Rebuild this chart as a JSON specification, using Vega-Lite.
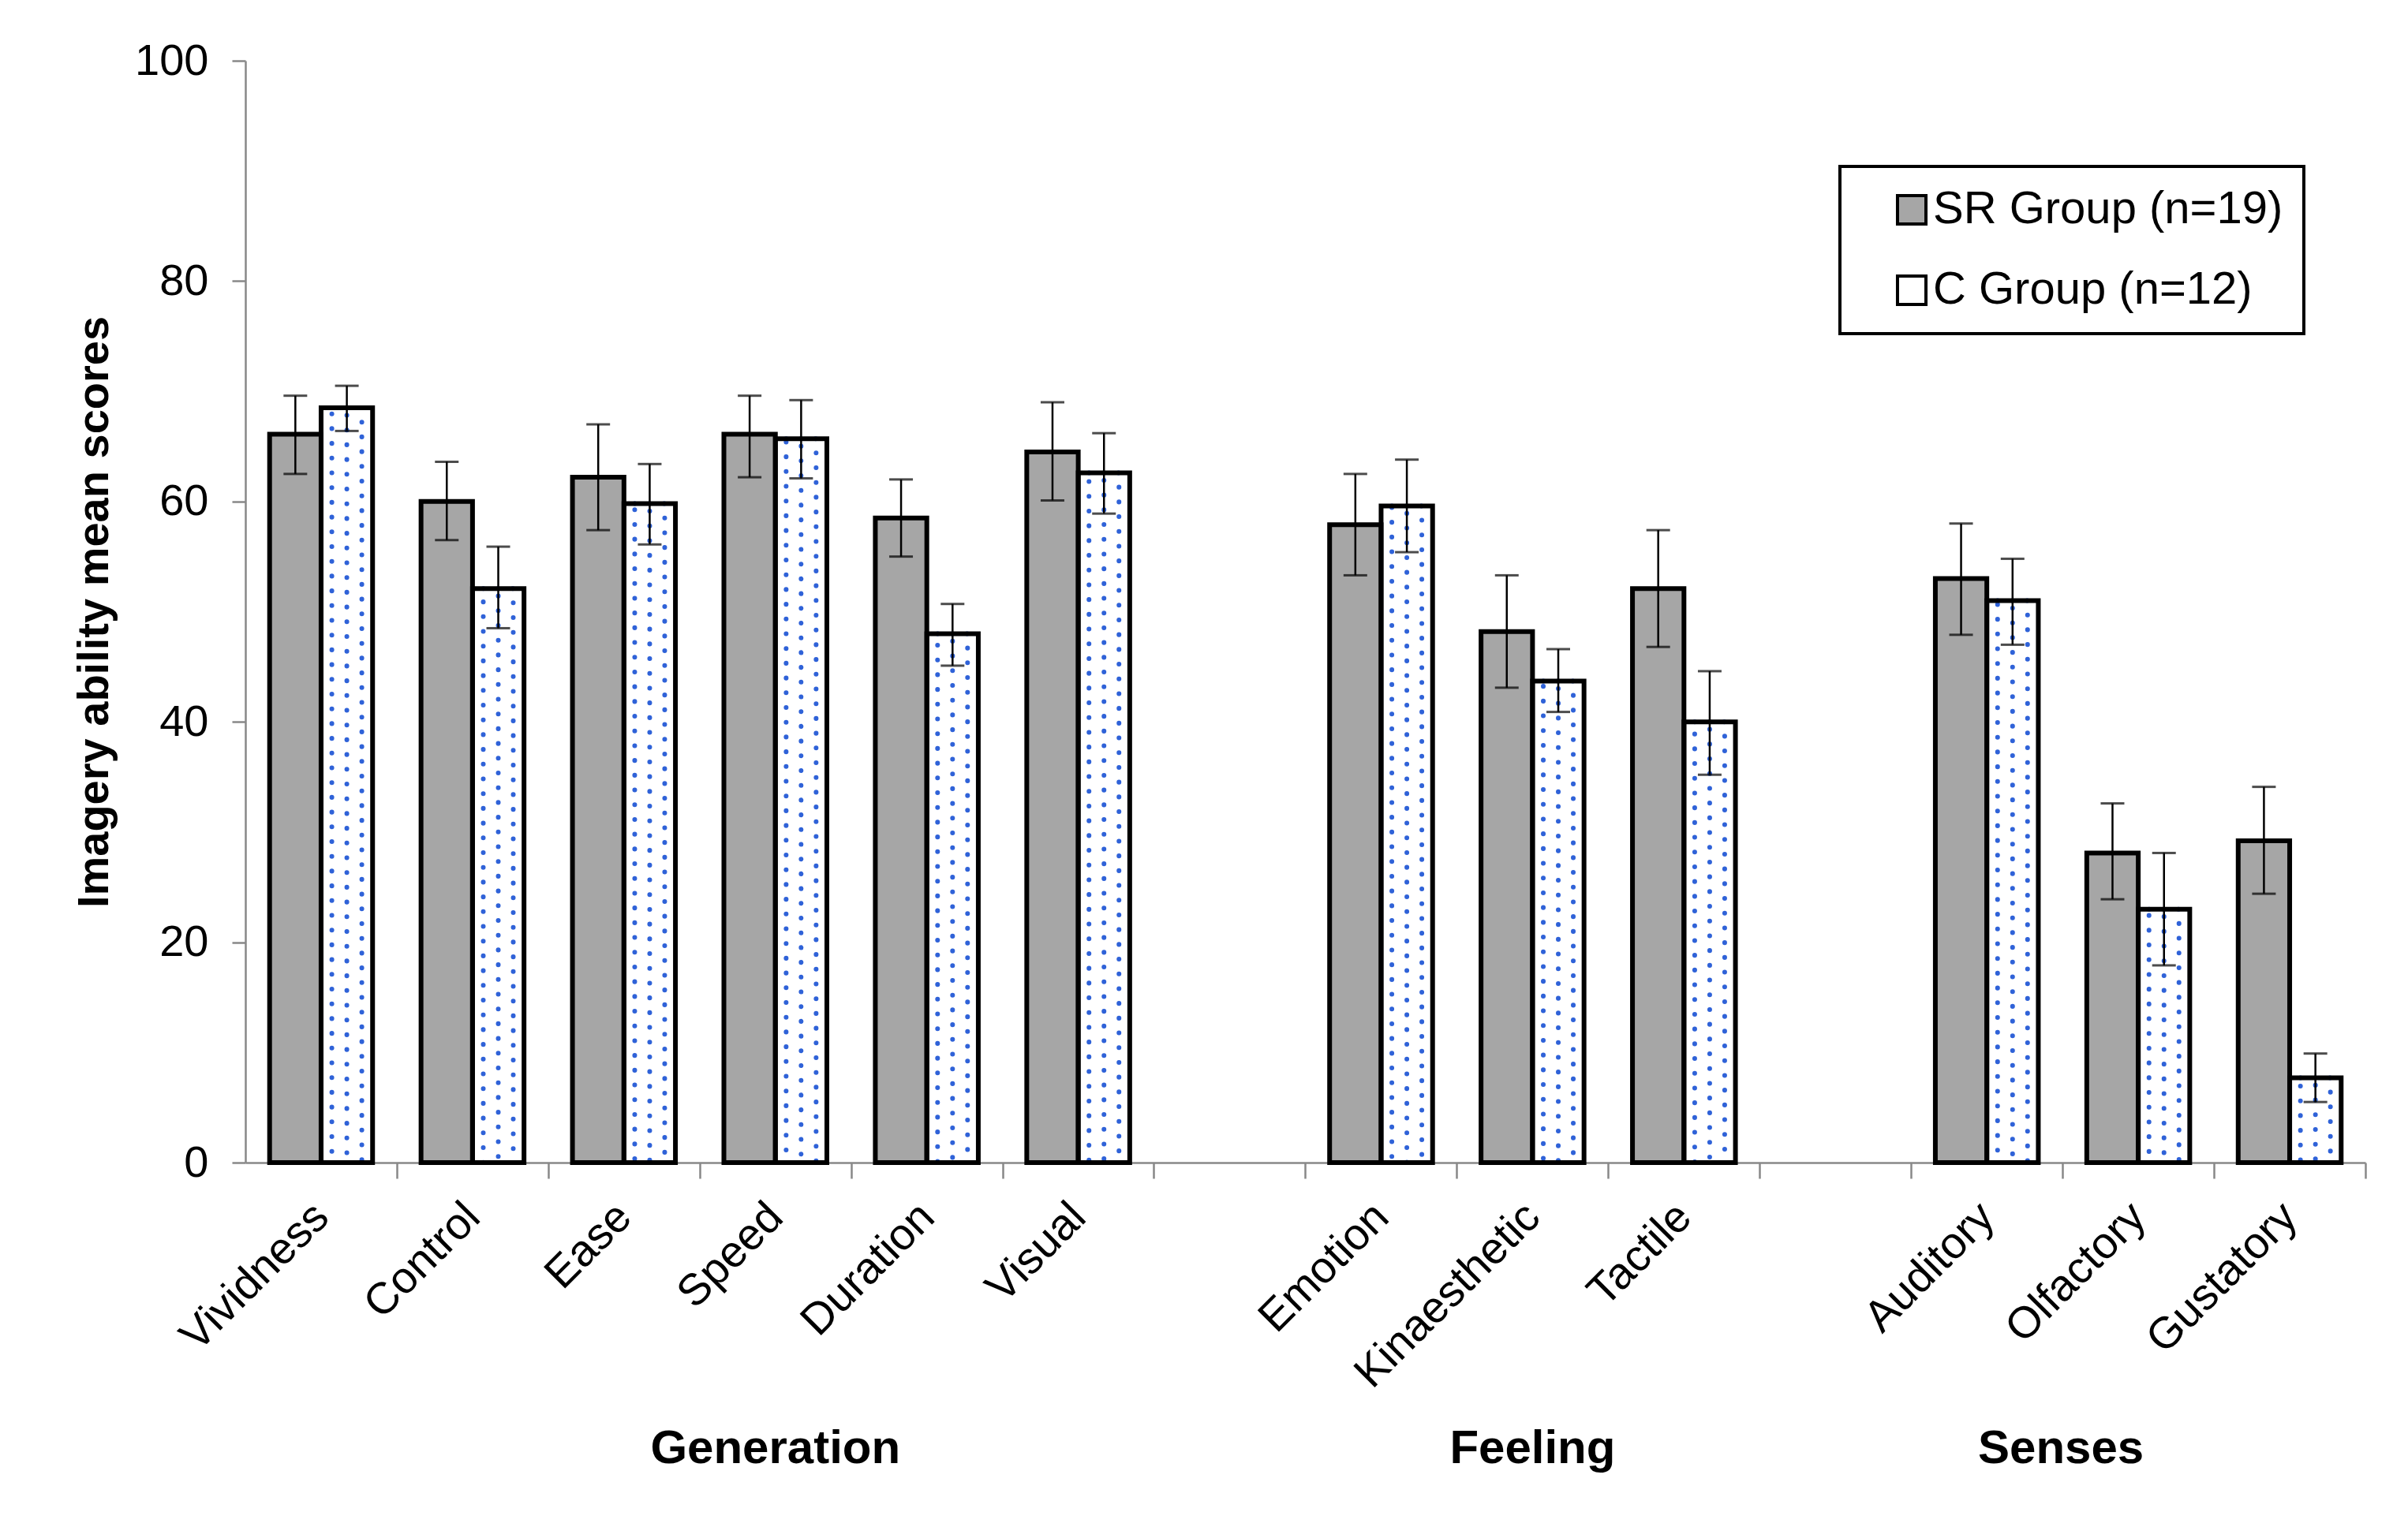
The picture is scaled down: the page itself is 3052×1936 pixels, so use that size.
{
  "$schema": "https://vega.github.io/schema/vega-lite/v6.json",
  "width": 2687,
  "height": 1397,
  "autosize": "none",
  "padding": {"left": 311, "top": 77, "right": 54, "bottom": 462},
  "background": "white",
  "config": {
    "view": {"stroke": null},
    "font": "Liberation Sans",
    "legend": {"strokeWidth": 4}
  },
  "data": {"values": [
      {"cat": "Vividness", "group": "SR Group (n=19)", "mean": 66.1, "lo": 62.5, "hi": 69.6},
      {"cat": "Vividness", "group": "C Group (n=12)", "mean": 68.5, "lo": 66.4, "hi": 70.5},
      {"cat": "Control", "group": "SR Group (n=19)", "mean": 60.0, "lo": 56.5, "hi": 63.6},
      {"cat": "Control", "group": "C Group (n=12)", "mean": 52.1, "lo": 48.5, "hi": 55.9},
      {"cat": "Ease", "group": "SR Group (n=19)", "mean": 62.2, "lo": 57.4, "hi": 67.0},
      {"cat": "Ease", "group": "C Group (n=12)", "mean": 59.8, "lo": 56.1, "hi": 63.4},
      {"cat": "Speed", "group": "SR Group (n=19)", "mean": 66.1, "lo": 62.2, "hi": 69.6},
      {"cat": "Speed", "group": "C Group (n=12)", "mean": 65.7, "lo": 62.1, "hi": 69.2},
      {"cat": "Duration", "group": "SR Group (n=19)", "mean": 58.5, "lo": 55.0, "hi": 62.0},
      {"cat": "Duration", "group": "C Group (n=12)", "mean": 48.0, "lo": 45.1, "hi": 50.7},
      {"cat": "Visual", "group": "SR Group (n=19)", "mean": 64.5, "lo": 60.1, "hi": 69.0},
      {"cat": "Visual", "group": "C Group (n=12)", "mean": 62.6, "lo": 58.9, "hi": 66.2},
      {"cat": "Emotion", "group": "SR Group (n=19)", "mean": 57.9, "lo": 53.3, "hi": 62.5},
      {"cat": "Emotion", "group": "C Group (n=12)", "mean": 59.6, "lo": 55.4, "hi": 63.8},
      {"cat": "Kinaesthetic", "group": "SR Group (n=19)", "mean": 48.2, "lo": 43.1, "hi": 53.3},
      {"cat": "Kinaesthetic", "group": "C Group (n=12)", "mean": 43.7, "lo": 40.9, "hi": 46.6},
      {"cat": "Tactile", "group": "SR Group (n=19)", "mean": 52.1, "lo": 46.8, "hi": 57.4},
      {"cat": "Tactile", "group": "C Group (n=12)", "mean": 40.0, "lo": 35.2, "hi": 44.6},
      {"cat": "Auditory", "group": "SR Group (n=19)", "mean": 53.0, "lo": 47.9, "hi": 58.0},
      {"cat": "Auditory", "group": "C Group (n=12)", "mean": 51.0, "lo": 47.0, "hi": 54.8},
      {"cat": "Olfactory", "group": "SR Group (n=19)", "mean": 28.1, "lo": 23.9, "hi": 32.6},
      {"cat": "Olfactory", "group": "C Group (n=12)", "mean": 23.0, "lo": 17.9, "hi": 28.1},
      {"cat": "Gustatory", "group": "SR Group (n=19)", "mean": 29.2, "lo": 24.4, "hi": 34.1},
      {"cat": "Gustatory", "group": "C Group (n=12)", "mean": 7.7, "lo": 5.5, "hi": 9.9}
  ]},
  "encoding": {
    "x": {
      "field": "cat",
      "type": "nominal",
      "sort": null,
      "scale": {
        "domain": ["Vividness", "Control", "Ease", "Speed", "Duration", "Visual", "gap1", "Emotion", "Kinaesthetic", "Tactile", "gap2", "Auditory", "Olfactory", "Gustatory"],
        "paddingInner": 0.32,
        "paddingOuter": 0.16
      },
      "axis": {
        "title": null,
        "labelExpr": "indexof(datum.value, 'gap') == 0 ? '' : datum.value",
        "labelAngle": -45,
        "labelAlign": "right",
        "labelBaseline": "middle",
        "labelFontSize": 56,
        "labelColor": "black",
        "labelPadding": 40,
        "labelLimit": 0,
        "bandPosition": 1,
        "tickOffset": 30.6,
        "labelOffset": -30.6,
        "tickSize": 20,
        "tickColor": "#888888",
        "tickWidth": 2.5,
        "domainColor": "#888888",
        "domainWidth": 2.5,
        "grid": false
      }
    },
    "xOffset": {"field": "group", "type": "nominal", "sort": null, "scale": {"domain": ["SR Group (n=19)", "C Group (n=12)"]}}
  },
  "layer": [
    {
      "mark": {"type": "bar", "strokeWidth": 0},
      "encoding": {
        "y": {
          "field": "mean",
          "type": "quantitative",
          "scale": {"domain": [0, 100], "nice": false},
          "axis": {
            "title": "Imagery ability mean scores",
            "titleFontSize": 56,
            "titleFontWeight": "bold",
            "titleColor": "black",
            "titlePadding": 22,
            "values": [0, 20, 40, 60, 80, 100],
            "labelFontSize": 56,
            "labelColor": "black",
            "labelPadding": 30,
            "tickSize": 17,
            "tickColor": "#888888",
            "tickWidth": 2.5,
            "domainColor": "#888888",
            "domainWidth": 2.5,
            "grid": false
          }
        },
        "fill": {
          "field": "group",
          "type": "nominal",
          "sort": null,
          "scale": {"domain": ["SR Group (n=19)", "C Group (n=12)"], "range": ["#A6A6A6", "#FFFFFF"]},
          "legend": {
            "orient": "none",
            "legendX": 2021,
            "legendY": 134,
            "title": null,
            "labelFontSize": 58,
            "labelColor": "black",
            "labelLimit": 0,
            "labelExpr": "datum.label + '      '",
            "symbolType": "square",
            "symbolSize": 1300,
            "symbolStrokeColor": "black",
            "symbolStrokeWidth": 4,
            "symbolOffset": 36,
            "strokeColor": "black",
            "padding": 26,
            "rowPadding": 44,
            "labelOffset": -2
          }
        }
      }
    },
    {
      "transform": [{"filter": "datum.group == 'C Group (n=12)'"}],
      "mark": {"type": "bar", "fill": "transparent", "stroke": "#2F62D8", "strokeWidth": 6, "strokeCap": "round", "strokeDash": [0.1, 18.6], "width": 38},
      "encoding": {
        "y": {"field": "mean", "type": "quantitative"}
      }
    },
    {
      "transform": [{"filter": "datum.group == 'C Group (n=12)'"}],
      "mark": {"type": "rule", "color": "#2F62D8", "strokeWidth": 6, "strokeCap": "round", "strokeDash": [0.1, 18.6], "strokeDashOffset": 9.3},
      "encoding": {
        "y": {"field": "mean", "type": "quantitative"},
        "y2": {"datum": 0}
      }
    },
    {
      "mark": {"type": "bar", "fill": "transparent", "stroke": "black", "strokeWidth": 6},
      "encoding": {
        "y": {"field": "mean", "type": "quantitative"}
      }
    },
    {
      "mark": {"type": "rule", "color": "black", "strokeWidth": 2.5},
      "encoding": {
        "y": {"field": "lo", "type": "quantitative"},
        "y2": {"field": "hi"}
      }
    },
    {
      "mark": {"type": "tick", "color": "black", "size": 30, "thickness": 3},
      "encoding": {
        "y": {"field": "lo", "type": "quantitative"}
      }
    },
    {
      "mark": {"type": "tick", "color": "black", "size": 30, "thickness": 3},
      "encoding": {
        "y": {"field": "hi", "type": "quantitative"}
      }
    },
    {
      "data": {"values": [
        {"label": "Generation", "at": "Speed"},
        {"label": "Feeling", "at": "Kinaesthetic"}
      ]},
      "mark": {"type": "text", "fontSize": 60, "fontWeight": "bold", "color": "black", "baseline": "middle", "align": "center"},
      "encoding": {
        "x": {"field": "at", "type": "nominal", "sort": null},
        "xOffset": null,
        "y": {"datum": -26, "type": "quantitative"},
        "text": {"field": "label"}
      }
    },
    {
      "data": {"values": [
        {"label": "Senses", "at": "Auditory"}
      ]},
      "mark": {"type": "text", "fontSize": 60, "fontWeight": "bold", "color": "black", "baseline": "middle", "align": "center"},
      "encoding": {
        "x": {"field": "at", "type": "nominal", "sort": null, "bandPosition": 1.22},
        "xOffset": null,
        "y": {"datum": -26, "type": "quantitative"},
        "text": {"field": "label"}
      }
    }
  ]
}
